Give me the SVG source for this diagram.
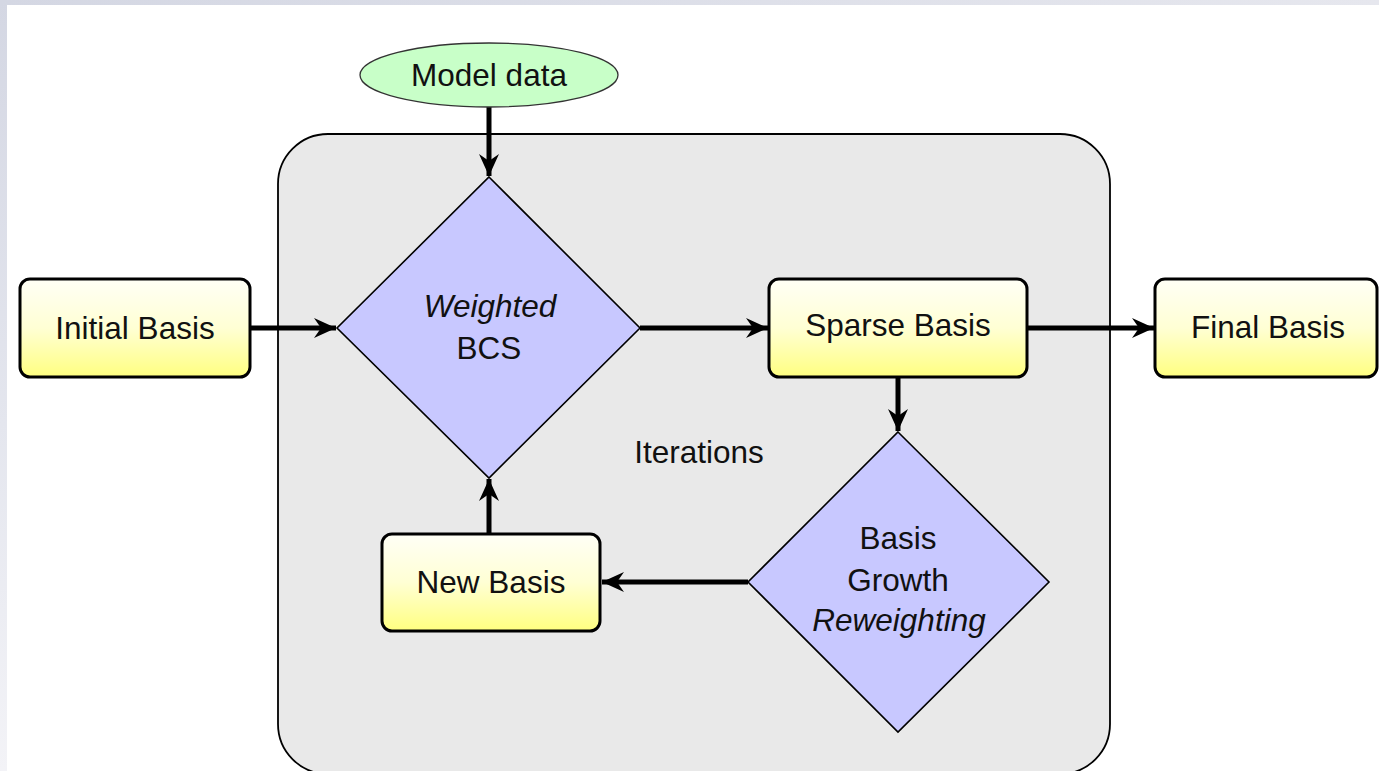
<svg xmlns="http://www.w3.org/2000/svg" width="1379" height="771" viewBox="0 0 1379 771">
  <defs>
    <linearGradient id="boxFill" x1="0" y1="0" x2="0" y2="1">
      <stop offset="0" stop-color="#fffff6"/>
      <stop offset="0.5" stop-color="#ffffd4"/>
      <stop offset="1" stop-color="#ffff80"/>
    </linearGradient>
    <linearGradient id="topBar" x1="0" y1="0" x2="1" y2="0">
      <stop offset="0" stop-color="#d4d7e3"/>
      <stop offset="1" stop-color="#e6e7ee"/>
    </linearGradient>
    <linearGradient id="leftBar" x1="0" y1="0" x2="0" y2="1">
      <stop offset="0" stop-color="#d4d7e3"/>
      <stop offset="0.55" stop-color="#e4e6ee"/>
      <stop offset="1" stop-color="#f3f3f7"/>
    </linearGradient>
    <marker id="arr" markerUnits="userSpaceOnUse" markerWidth="26" markerHeight="26" viewBox="-24 -13 26 26" refX="0" refY="0" orient="auto">
      <path d="M0,0 L-22,-10 L-15,0 L-22,10 Z" fill="#000"/>
    </marker>
    <style>
      .box { fill: url(#boxFill); stroke: #000; stroke-width: 3; }
      .dia { fill: #c8c8ff; stroke: #000; stroke-width: 1.6; }
      .lbl { font-family: "Liberation Sans", Arial, sans-serif; font-size: 31.5px; fill: #111; text-anchor: middle; }
      .it { font-style: italic; }
      .conn { stroke: #000; stroke-width: 5; fill: none; marker-end: url(#arr); }
    </style>
  </defs>

  <rect x="0" y="0" width="1379" height="771" fill="#ffffff"/>
  <rect x="0" y="0" width="1379" height="5" fill="url(#topBar)"/>
  <rect x="0" y="0" width="7" height="771" fill="url(#leftBar)"/>

  <g id="iterations-region">
    <rect x="278" y="134" width="832" height="640" rx="50" ry="50" fill="#e9e9e9" stroke="#000" stroke-width="1.8"/>
    <text class="lbl" x="699" y="463">Iterations</text>
  </g>

  <g id="connectors">
    <line class="conn" x1="489" y1="107" x2="489" y2="176"/>
    <line class="conn" x1="250" y1="328" x2="336" y2="328"/>
    <line class="conn" x1="640" y1="328" x2="768" y2="328"/>
    <line class="conn" x1="1027" y1="328" x2="1154" y2="328"/>
    <line class="conn" x1="898" y1="378" x2="898" y2="431"/>
    <line class="conn" x1="748" y1="582" x2="602" y2="582"/>
    <line class="conn" x1="489" y1="533" x2="489" y2="479"/>
  </g>

  <g id="model-data">
    <ellipse cx="489" cy="75" rx="129" ry="32" fill="#c8ffc8" stroke="#333" stroke-width="1.3"/>
    <text class="lbl" x="489" y="86">Model data</text>
  </g>

  <g id="initial-basis">
    <rect class="box" x="20" y="279" width="230" height="98" rx="10" ry="10"/>
    <text class="lbl" x="135" y="339">Initial Basis</text>
  </g>

  <g id="weighted-bcs">
    <polygon class="dia" points="489,177 640,328 489,478 337,328"/>
    <text class="lbl it" x="490" y="317">Weighted</text>
    <text class="lbl" x="489" y="359">BCS</text>
  </g>

  <g id="sparse-basis">
    <rect class="box" x="769" y="279" width="258" height="98" rx="10" ry="10"/>
    <text class="lbl" x="898" y="336">Sparse Basis</text>
  </g>

  <g id="final-basis">
    <rect class="box" x="1155" y="279" width="222" height="98" rx="10" ry="10"/>
    <text class="lbl" x="1268" y="338">Final Basis</text>
  </g>

  <g id="basis-growth">
    <polygon class="dia" points="898,432 1049,582 898,732 748,582"/>
    <text class="lbl" x="898" y="549">Basis</text>
    <text class="lbl" x="898" y="591">Growth</text>
    <text class="lbl it" x="899" y="631">Reweighting</text>
  </g>

  <g id="new-basis">
    <rect class="box" x="382" y="534" width="218" height="97" rx="10" ry="10"/>
    <text class="lbl" x="491" y="593">New Basis</text>
  </g>
</svg>
